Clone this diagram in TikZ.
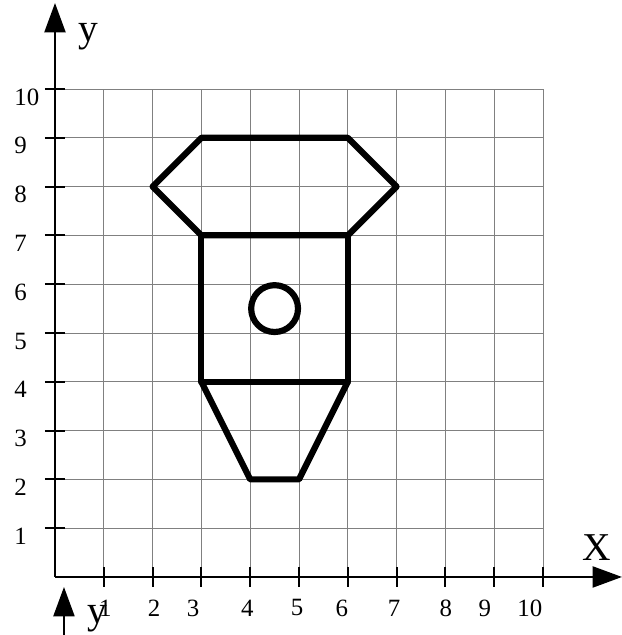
\documentclass[tikz,border=0pt]{standalone}
\usepackage{fontspec}
\setmainfont{Liberation Serif}
\usetikzlibrary{arrows.meta}
\begin{document}
\begin{tikzpicture}[x=1cm,y=1cm,
  gridline/.style={draw=black!50,line width=0.5pt},
  axisline/.style={draw=black,line width=1.2pt},
  tickline/.style={draw=black,line width=1.2pt},
  shapeline/.style={draw=black,line width=3.6pt,line join=round},
  numlbl/.style={font=\fontsize{14.5}{14.5}\selectfont,inner sep=0pt},
  biglbl/.style={font=\fontsize{23}{23}\selectfont,inner sep=0pt},
  axtip/.style={-{Triangle[length=0.6cm,width=0.43cm]}}]
\useasboundingbox (-1.127,-1.189) rectangle (11.619,11.824);
% grid
\foreach \i in {1,...,10}{
  \draw[gridline] (\i,0) -- (\i,10);
  \draw[gridline] (0,\i) -- (10,\i);
}
% ticks
\foreach \i in {1,...,10}{
  \draw[tickline] (-0.205,\i) -- (0.205,\i);
  \draw[tickline] (\i,-0.205) -- (\i,0.205);
}
% axes
\coordinate (O) at (0,0);
\coordinate (ytop) at (0,11.762);
\coordinate (xend) at (11.619,0);
\draw[axisline,axtip] (O) -- (ytop);
\draw[axisline,axtip] (O) -- (xend);
% axis letters
\node[biglbl] (ylab) at (0.676,11.076) {y};
\node[biglbl] (xlab) at (11.107,0.594) {X};
% y tick labels
\foreach \i in {1,...,10}{
  \node[numlbl,anchor=west] (yl\i) at (-0.84,\i-0.164) {\i};
}
% x tick labels
\node[numlbl] (xl1) at (1.03,-0.635) {1};
\node[numlbl] (xl2) at (2.03,-0.635) {2};
\node[numlbl] (xl3) at (2.83,-0.635) {3};
\node[numlbl] (xl4) at (3.94,-0.635) {4};
\node[numlbl] (xl5) at (4.96,-0.635) {5};
\node[numlbl] (xl6) at (5.88,-0.635) {6};
\node[numlbl] (xl7) at (6.95,-0.635) {7};
\node[numlbl] (xl8) at (8.01,-0.635) {8};
\node[numlbl] (xl9) at (8.81,-0.635) {9};
\node[numlbl] (xl10) at (9.73,-0.635) {10};
% bottom stray arrow and y
\coordinate (ba) at (0.184,-1.25);
\coordinate (bt) at (0.184,-0.205);
\draw[axisline,axtip] (ba) -- (bt);
\node[biglbl,anchor=north] (ylab2) at (0.861,-0.574) {y};
% shape
\coordinate (h1) at (3,9);
\coordinate (h2) at (6,9);
\coordinate (h3) at (7,8);
\coordinate (h4) at (6,7);
\coordinate (h5) at (3,7);
\coordinate (h6) at (2,8);
\coordinate (r1) at (3,4);
\coordinate (r2) at (6,4);
\coordinate (t1) at (4,2);
\coordinate (t2) at (5,2);
\draw[shapeline] (h1) -- (h2) -- (h3) -- (h4) -- (h5) -- (h6) -- cycle;
\draw[shapeline] (h5) -- (h4) -- (r2) -- (r1) -- cycle;
\draw[shapeline] (r1) -- (t1) -- (t2) -- (r2);
\draw[shapeline] (4.5,5.5) circle (0.48);
\end{tikzpicture}
\end{document}
